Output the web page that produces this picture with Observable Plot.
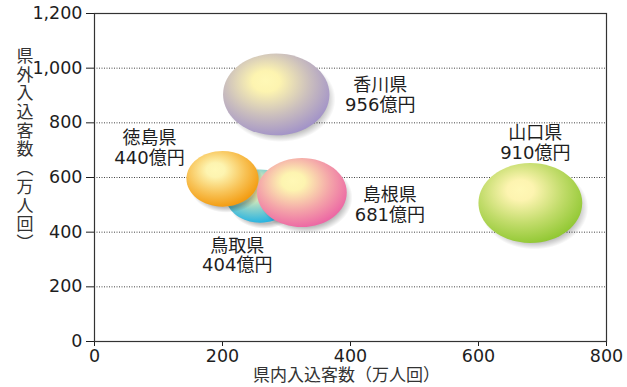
<!DOCTYPE html>
<html lang="ja">
<head>
<meta charset="utf-8">
<script src="https://cdn.jsdelivr.net/npm/d3@7"></script>
<script src="https://cdn.jsdelivr.net/npm/@observablehq/plot@0.6"></script>
<style>
  html, body { margin: 0; padding: 0; background: #fff; }
  #chart svg { display: block; }
</style>
</head>
<body>
<div id="chart"></div>
<script>
// 県別の観光データ
const prefectures = ["香川県", "徳島県", "鳥取県", "島根県", "山口県"];
const domestic = [284, 200, 259, 324, 681];   // 県内入込客数（万人回）
const visitors = [904, 595, 532, 545, 507];   // 県外入込客数（万人回）
const spending = [956, 440, 404, 681, 910];   // 観光消費額（億円）
const xTicks = [0, 200, 400, 600, 800];
const yTicks = [0, 200, 400, 600, 800, 1000, 1200];
const gridLines = [200, 400, 600, 800, 1000];

// bubble rim colours, in the same order as prefectures
const rimColors = ["#a293c8", "#f39a0e", "#22b2e3", "#ec66a4", "#91c833"];
// back-to-front stacking order
const drawOrder = [2, 1, 3, 0, 4];
// label offsets from each bubble centre (px)
const labelShift = {
  "香川県": [104, 0],
  "徳島県": [-73, -31],
  "鳥取県": [-23, 59],
  "島根県": [88, 12],
  "山口県": [5, -60]
};

// ellipse-shaped symbol: horizontal radius from the r scale, squashed vertically
const ellipse = (k, grow = 1) => ({
  draw(ctx, size) {
    const rx = Math.sqrt(size / Math.PI) * grow, ry = rx * k, c = 0.5523;
    ctx.moveTo(rx, 0);
    ctx.bezierCurveTo(rx, ry * c, rx * c, ry, 0, ry);
    ctx.bezierCurveTo(-rx * c, ry, -rx, ry * c, -rx, 0);
    ctx.bezierCurveTo(-rx, -ry * c, -rx * c, -ry, 0, -ry);
    ctx.bezierCurveTo(rx * c, -ry, rx, -ry * c, rx, 0);
    ctx.closePath();
  }
});

const font = "'DejaVu Sans', 'Noto Sans CJK JP', sans-serif";

const bubbleMarks = drawOrder.flatMap(i => [
  Plot.dot([i], {
    x: j => domestic[j], y: j => visitors[j], r: j => spending[j],
    symbol: ellipse(0.77, 1.04), fill: "url(#bubble-shadow)", dx: 4, dy: 5
  }),
  Plot.dot([i], {
    x: j => domestic[j], y: j => visitors[j], r: j => spending[j],
    symbol: ellipse(0.77), fill: `url(#bubble-${i})`
  })
]);

const labelMarks = prefectures.map((name, i) => Plot.text([i], {
  x: j => domestic[j], y: j => visitors[j],
  text: j => `${prefectures[j]}\n${spending[j]}億円`,
  dx: labelShift[name][0], dy: labelShift[name][1],
  fontSize: 18, lineHeight: 1.1, fill: "#1e1e1e"
}));

const chart = Plot.plot({
  width: 627,
  height: 387,
  marginLeft: 94,
  marginRight: 21,
  marginTop: 13,
  marginBottom: 46,
  style: { fontFamily: font, fontSize: "17.5px", color: "#1e1e1e", background: "#fff" },
  x: { domain: [0, 800], ticks: xTicks, tickSize: 5, tickPadding: 3, label: null },
  y: { domain: [0, 1200], ticks: yTicks, tickSize: 8, tickPadding: 4, tickFormat: d3.format(","), label: null },
  r: { type: "sqrt", domain: [0, 1000], range: [0, 54.4] },
  marks: [
    Plot.ruleY(gridLines, { stroke: "#444", strokeWidth: 1, strokeDasharray: "1,1.5" }),
    ...bubbleMarks,
    ...labelMarks,
    Plot.frame({ stroke: "#333", strokeWidth: 1.2 }),
    Plot.text(["県内入込客数（万人回）"], {
      frameAnchor: "bottom", dx: -4, dy: 39, fontSize: 17, fill: "#333"
    }),
    Plot.text(["県\n外\n入\n込\n客\n数\n︵\n万\n人\n回\n︶"], {
      frameAnchor: "left", dx: -78, dy: -28, fontSize: 17, lineHeight: 1.1, fill: "#333"
    })
  ]
});

// radial gradients for the glossy bubbles and their soft shadow
const defs = d3.select(chart).insert("defs", ":first-child");
rimColors.forEach((rim, i) => {
  const g = defs.append("radialGradient")
    .attr("id", `bubble-${i}`)
    .attr("cx", 0.42).attr("cy", 0.38).attr("r", 0.64)
    .attr("fx", 0.4).attr("fy", 0.33);
  g.append("stop").attr("offset", 0).attr("stop-color", "#fff8b6");
  g.append("stop").attr("offset", 0.2).attr("stop-color", "#fdf4b0");
  g.append("stop").attr("offset", 0.62).attr("stop-color", d3.interpolateRgb("#fdf4b0", rim)(0.55));
  g.append("stop").attr("offset", 1).attr("stop-color", rim);
});
const s = defs.append("radialGradient").attr("id", "bubble-shadow")
  .attr("cx", 0.5).attr("cy", 0.5).attr("r", 0.5);
s.append("stop").attr("offset", 0).attr("stop-color", "#000").attr("stop-opacity", 0.32);
s.append("stop").attr("offset", 0.82).attr("stop-color", "#000").attr("stop-opacity", 0.26);
s.append("stop").attr("offset", 1).attr("stop-color", "#000").attr("stop-opacity", 0);

document.getElementById("chart").append(chart);
</script>
</body>
</html>
